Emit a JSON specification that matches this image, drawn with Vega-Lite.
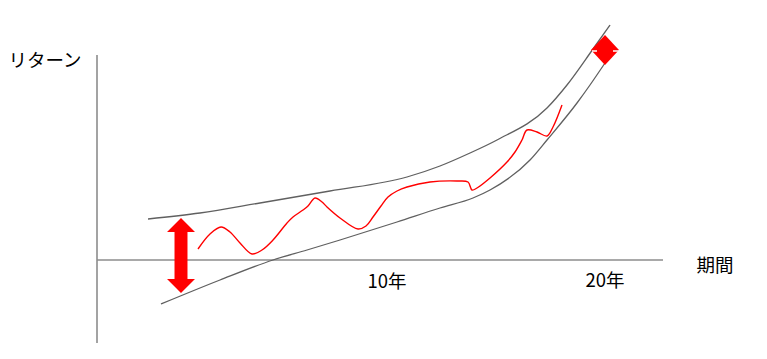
{
  "$schema": "https://vega.github.io/schema/vega-lite/v6.json",
  "width": 767,
  "height": 359,
  "autosize": {"type": "fit", "contains": "padding"},
  "padding": 0,
  "config": {"view": {"stroke": null}},
  "datasets": {
    "axes": [
      {"name": "vertical", "t": 0, "t2": 0, "r": 205, "r2": -83},
      {"name": "horizontal", "t": 0, "t2": 566, "r": 0, "r2": 0}
    ],
    "curves": [
      {"curve": "upper", "t": 51, "r": 41},
      {"curve": "upper", "t": 103, "r": 47},
      {"curve": "upper", "t": 163, "r": 57},
      {"curve": "upper", "t": 233, "r": 69},
      {"curve": "upper", "t": 310, "r": 83},
      {"curve": "upper", "t": 343, "r": 94},
      {"curve": "upper", "t": 373, "r": 107},
      {"curve": "upper", "t": 400, "r": 120},
      {"curve": "upper", "t": 450, "r": 152},
      {"curve": "upper", "t": 470, "r": 175},
      {"curve": "upper", "t": 496, "r": 211},
      {"curve": "upper", "t": 513, "r": 235},
      {"curve": "lower", "t": 64, "r": -44},
      {"curve": "lower", "t": 123, "r": -20},
      {"curve": "lower", "t": 176, "r": 0},
      {"curve": "lower", "t": 210, "r": 10},
      {"curve": "lower", "t": 243, "r": 20},
      {"curve": "lower", "t": 300, "r": 38},
      {"curve": "lower", "t": 343, "r": 52},
      {"curve": "lower", "t": 376, "r": 62},
      {"curve": "lower", "t": 393, "r": 70},
      {"curve": "lower", "t": 433, "r": 100},
      {"curve": "lower", "t": 450, "r": 120},
      {"curve": "lower", "t": 480, "r": 157},
      {"curve": "lower", "t": 493, "r": 175},
      {"curve": "lower", "t": 508, "r": 197}
    ],
    "returns": [
      {"t": 101, "r": 11}, {"t": 113, "r": 26}, {"t": 124, "r": 33}, {"t": 133, "r": 28},
      {"t": 143, "r": 17}, {"t": 155, "r": 6}, {"t": 165, "r": 10}, {"t": 176, "r": 20},
      {"t": 190, "r": 37}, {"t": 196, "r": 43}, {"t": 206, "r": 50}, {"t": 211, "r": 54},
      {"t": 218, "r": 62}, {"t": 225, "r": 58}, {"t": 230, "r": 53}, {"t": 243, "r": 42},
      {"t": 261, "r": 31}, {"t": 269, "r": 34}, {"t": 276, "r": 43}, {"t": 284, "r": 54},
      {"t": 291, "r": 63}, {"t": 300, "r": 69}, {"t": 310, "r": 73}, {"t": 333, "r": 78},
      {"t": 360, "r": 79}, {"t": 371, "r": 78}, {"t": 375, "r": 70}, {"t": 380, "r": 72},
      {"t": 393, "r": 82}, {"t": 410, "r": 98}, {"t": 418, "r": 108}, {"t": 425, "r": 120},
      {"t": 430, "r": 130}, {"t": 440, "r": 128}, {"t": 450, "r": 124}, {"t": 456, "r": 133},
      {"t": 465, "r": 155}
    ],
    "arrows": [
      {"name": "start spread", "t": 84, "r": 4.5}
    ],
    "diamonds": [
      {"name": "end spread", "t": 508, "r": 210}
    ],
    "slits": [
      {"t": 495, "t2": 500, "r": 209},
      {"t": 516, "t2": 522, "r": 209}
    ],
    "labels": [
      {"label": "リターン", "t": -52, "r": 199},
      {"label": "期間", "t": 618, "r": -6},
      {"label": "10年", "t": 290, "r": -22},
      {"label": "20年", "t": 508, "r": -21}
    ]
  },
  "layer": [
    {
      "data": {"name": "axes"},
      "mark": {"type": "rule", "color": "#8c8c8c", "strokeWidth": 1.6},
      "encoding": {
        "x": {"field": "t", "type": "quantitative", "scale": {"domain": [-97, 670], "nice": false, "zero": false}, "axis": null},
        "x2": {"field": "t2"},
        "y": {"field": "r", "type": "quantitative", "scale": {"domain": [-99, 260], "nice": false, "zero": false}, "axis": null},
        "y2": {"field": "r2"}
      }
    },
    {
      "data": {"name": "curves"},
      "mark": {"type": "line", "color": "#606060", "strokeWidth": 1.3, "interpolate": "monotone"},
      "encoding": {
        "x": {"field": "t", "type": "quantitative", "scale": {"domain": [-97, 670], "nice": false, "zero": false}, "axis": null},
        "y": {"field": "r", "type": "quantitative", "scale": {"domain": [-99, 260], "nice": false, "zero": false}, "axis": null},
        "detail": {"field": "curve", "type": "nominal"}
      }
    },
    {
      "data": {"name": "returns"},
      "mark": {"type": "line", "color": "#ff0000", "strokeWidth": 1.4, "interpolate": "catmull-rom"},
      "encoding": {
        "x": {"field": "t", "type": "quantitative", "scale": {"domain": [-97, 670], "nice": false, "zero": false}, "axis": null},
        "y": {"field": "r", "type": "quantitative", "scale": {"domain": [-99, 260], "nice": false, "zero": false}, "axis": null}
      }
    },
    {
      "data": {"name": "arrows"},
      "mark": {"type": "point", "filled": true, "color": "#ff0000", "opacity": 1, "strokeWidth": 0, "size": 5625,
        "shape": "M0,-1L0.373,-0.627L0.173,-0.627L0.173,0.627L0.373,0.627L0,1L-0.373,0.627L-0.173,0.627L-0.173,-0.627L-0.373,-0.627Z"},
      "encoding": {
        "x": {"field": "t", "type": "quantitative", "scale": {"domain": [-97, 670], "nice": false, "zero": false}, "axis": null},
        "y": {"field": "r", "type": "quantitative", "scale": {"domain": [-99, 260], "nice": false, "zero": false}, "axis": null}
      }
    },
    {
      "data": {"name": "diamonds"},
      "mark": {"type": "point", "filled": true, "color": "#ff0000", "opacity": 1, "strokeWidth": 0, "size": 784,
        "shape": "M0,-1.07L1,0L0,1.07L-1,0Z"},
      "encoding": {
        "x": {"field": "t", "type": "quantitative", "scale": {"domain": [-97, 670], "nice": false, "zero": false}, "axis": null},
        "y": {"field": "r", "type": "quantitative", "scale": {"domain": [-99, 260], "nice": false, "zero": false}, "axis": null}
      }
    },
    {
      "data": {"name": "slits"},
      "mark": {"type": "rule", "color": "#ffffff", "strokeWidth": 1.5},
      "encoding": {
        "x": {"field": "t", "type": "quantitative", "scale": {"domain": [-97, 670], "nice": false, "zero": false}, "axis": null},
        "x2": {"field": "t2"},
        "y": {"field": "r", "type": "quantitative", "scale": {"domain": [-99, 260], "nice": false, "zero": false}, "axis": null}
      }
    },
    {
      "data": {"name": "labels"},
      "mark": {"type": "text", "font": "Noto Sans CJK JP", "fontSize": 18.5, "color": "#000000", "align": "center", "baseline": "middle"},
      "encoding": {
        "x": {"field": "t", "type": "quantitative", "scale": {"domain": [-97, 670], "nice": false, "zero": false}, "axis": null},
        "y": {"field": "r", "type": "quantitative", "scale": {"domain": [-99, 260], "nice": false, "zero": false}, "axis": null},
        "text": {"field": "label", "type": "nominal"}
      }
    }
  ]
}
